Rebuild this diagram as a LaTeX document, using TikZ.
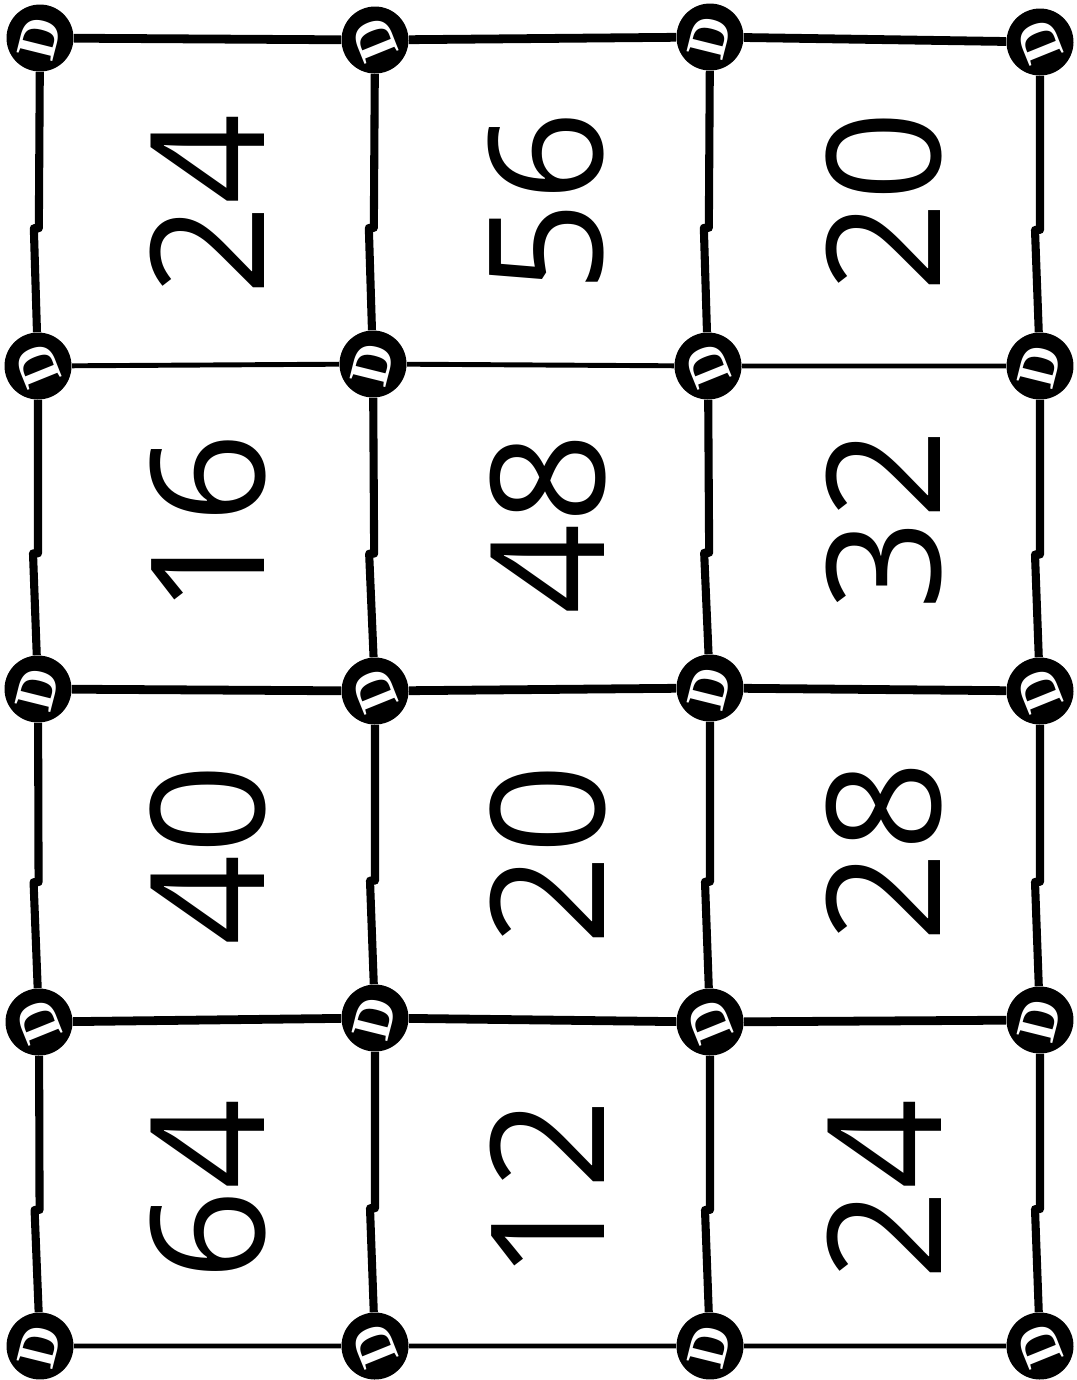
\documentclass[tikz,border=0pt]{standalone}
\usepackage{fontspec}
\setmainfont{Open Sans}
\newfontfamily\dotfont{Liberation Serif}
\usetikzlibrary{calc}
\tikzset{
  dotnode/.style={circle, fill=black, inner sep=0pt, minimum size=1.34cm,
    text=white, font={\dotfont\bfseries\fontsize{32pt}{32pt}\selectfont}},
  numtext/.style={rotate=90, inner sep=0pt, font={\fontsize{90pt}{90pt}\selectfont}},
  gridline/.style={line width=5pt, line join=round},
  thinline/.style={line width=2.8pt},
  colline/.style={line width=4.6pt, line join=round}
}
% one corner dot, rotated D inside
\newcommand{\dnode}[4]{
  \node[dotnode, rotate=#4] (#1) at (#2,#3) {D};
}
% vertical link with a small jog
\newcommand{\vlink}[2]{
  \draw[colline] (#1) -- ($(#1)!0.58!(#2)$) -- ++(-5,0) -- (#2);
}
\newcommand{\hlink}[3]{
  \draw[#3] (#1) -- (#2);
}
\newcommand{\cellnum}[3]{
  \node[numtext] at (#1,#2) {#3};
}

\begin{document}
\begin{tikzpicture}[x=0.02cm, y=-0.02cm]
        \useasboundingbox (0,0) rectangle (1076,1380);
        \fill[white] (0,0) rectangle (1076,1380);
        % dots
        \dnode{a1}{40}{38}{76}
        \dnode{a2}{375}{40}{112}
        \dnode{a3}{710}{37}{76}
        \dnode{a4}{1040}{42}{112}
        \dnode{b1}{38}{366}{112}
        \dnode{b2}{373}{364}{76}
        \dnode{b3}{708}{366}{112}
        \dnode{b4}{1040}{366}{76}
        \dnode{c1}{38}{689}{76}
        \dnode{c2}{375}{691}{112}
        \dnode{c3}{710}{688}{76}
        \dnode{c4}{1040}{691}{112}
        \dnode{d1}{39}{1022}{112}
        \dnode{d2}{375}{1018}{76}
        \dnode{d3}{710}{1022}{112}
        \dnode{d4}{1040}{1020}{76}
        \dnode{e1}{40}{1346}{76}
        \dnode{e2}{375}{1346}{112}
        \dnode{e3}{710}{1346}{76}
        \dnode{e4}{1040}{1346}{112}
        % rows
        \hlink{a1}{a2}{gridline} \hlink{a2}{a3}{gridline} \hlink{a3}{a4}{gridline}
        \hlink{b1}{b2}{thinline} \hlink{b2}{b3}{thinline} \hlink{b3}{b4}{thinline}
        \hlink{c1}{c2}{gridline} \hlink{c2}{c3}{gridline} \hlink{c3}{c4}{gridline}
        \hlink{d1}{d2}{gridline} \hlink{d2}{d3}{gridline} \hlink{d3}{d4}{gridline}
        \hlink{e1}{e2}{thinline} \hlink{e2}{e3}{thinline} \hlink{e3}{e4}{thinline}
        % columns
        \vlink{a1}{b1} \vlink{b1}{c1} \vlink{c1}{d1} \vlink{d1}{e1}
        \vlink{a2}{b2} \vlink{b2}{c2} \vlink{c2}{d2} \vlink{d2}{e2}
        \vlink{a3}{b3} \vlink{b3}{c3} \vlink{c3}{d3} \vlink{d3}{e3}
        \vlink{a4}{b4} \vlink{b4}{c4} \vlink{c4}{d4} \vlink{d4}{e4}
        % numbers
        \cellnum{207}{205}{24}
        \cellnum{546}{202}{56}
        \cellnum{884}{202}{20}
        \cellnum{208}{524}{16}
        \cellnum{548}{524}{48}
        \cellnum{884}{520}{32}
        \cellnum{208}{855}{40}
        \cellnum{548}{855}{20}
        \cellnum{884}{852}{28}
        \cellnum{208}{1190}{64}
        \cellnum{547}{1190}{12}
        \cellnum{884}{1190}{24}
      \end{tikzpicture}
\end{document}
